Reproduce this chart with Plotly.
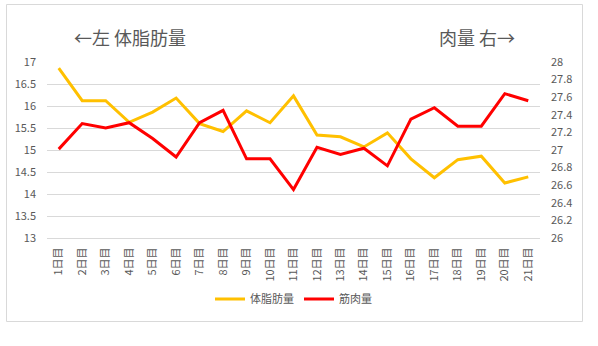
import plotly.graph_objects as go

days = [f"{i}日目" for i in range(1, 22)]
fat = [16.86, 16.12, 16.12, 15.63, 15.86, 16.18, 15.60, 15.42, 15.89, 15.62, 16.23,
       15.34, 15.30, 15.07, 15.39, 14.80, 14.37, 14.78, 14.86, 14.25, 14.39]
muscle = [27.01, 27.30, 27.25, 27.31, 27.13, 26.92, 27.31, 27.45, 26.90, 26.90, 26.55,
          27.03, 26.95, 27.02, 26.82, 27.35, 27.48, 27.27, 27.27, 27.64, 27.56]
name_fat = "体脂肪量"
name_muscle = "筋肉量"
title_left = "←左 体脂肪量"
title_right = "肉量 右→"

FONT = "Noto Sans CJK JP"
GRAY = "#595959"

fig = go.Figure()
fig.add_trace(go.Scatter(x=days, y=fat, name=name_fat, mode="lines",
                         line=dict(color="#FFC000", width=3), yaxis="y"))
fig.add_trace(go.Scatter(x=days, y=muscle, name=name_muscle, mode="lines",
                         line=dict(color="#FF0000", width=3), yaxis="y2"))

fig.update_layout(
    width=598, height=346,
    margin=dict(l=47, r=58, t=62, b=108, autoexpand=False),
    paper_bgcolor="white", plot_bgcolor="white",
    font=dict(family=FONT, color=GRAY, size=11),
    showlegend=True,
    legend=dict(orientation="h", x=0.5, xanchor="center", y=(238 - 299) / 176, yanchor="middle",
                font=dict(size=11, color=GRAY), itemwidth=30),
    xaxis=dict(type="category", range=[-0.5, 20.5], tickangle=-90, automargin=False,
               tickfont=dict(size=11, color=GRAY), showgrid=False,
               showline=True, linecolor="#D9D9D9", linewidth=1, ticks="",
               ticklabelstandoff=4, zeroline=False),
    yaxis=dict(range=[13, 17], dtick=0.5, showgrid=True, gridcolor="#D9D9D9", automargin=False,
               gridwidth=1, zeroline=False, showline=False, ticks="",
               tickfont=dict(size=11, color=GRAY), ticklabelstandoff=10),
    yaxis2=dict(range=[26, 28], dtick=0.2, overlaying="y", side="right", automargin=False,
                showgrid=False, zeroline=False, showline=False, ticks="",
                tickfont=dict(size=11, color=GRAY), ticklabelstandoff=10),
    annotations=[
        dict(text=title_left, xref="paper", yref="paper", x=(130 - 47) / 493, y=(238 - 37) / 176,
             xanchor="center", yanchor="middle", showarrow=False,
             font=dict(size=18, color=GRAY, family=FONT)),
        dict(text=title_right, xref="paper", yref="paper", x=(477 - 47) / 493, y=(238 - 37) / 176,
             xanchor="center", yanchor="middle", showarrow=False,
             font=dict(size=18, color=GRAY, family=FONT)),
    ],
    shapes=[dict(type="rect", xref="paper", yref="paper",
                 x0=(6.5 - 47) / 493, x1=(582.5 - 47) / 493,
                 y0=(238 - 321.5) / 176, y1=(238 - 4.5) / 176,
                 line=dict(color="#D9D9D9", width=1), fillcolor="rgba(0,0,0,0)")],
)

fig.write_html("out.html")
